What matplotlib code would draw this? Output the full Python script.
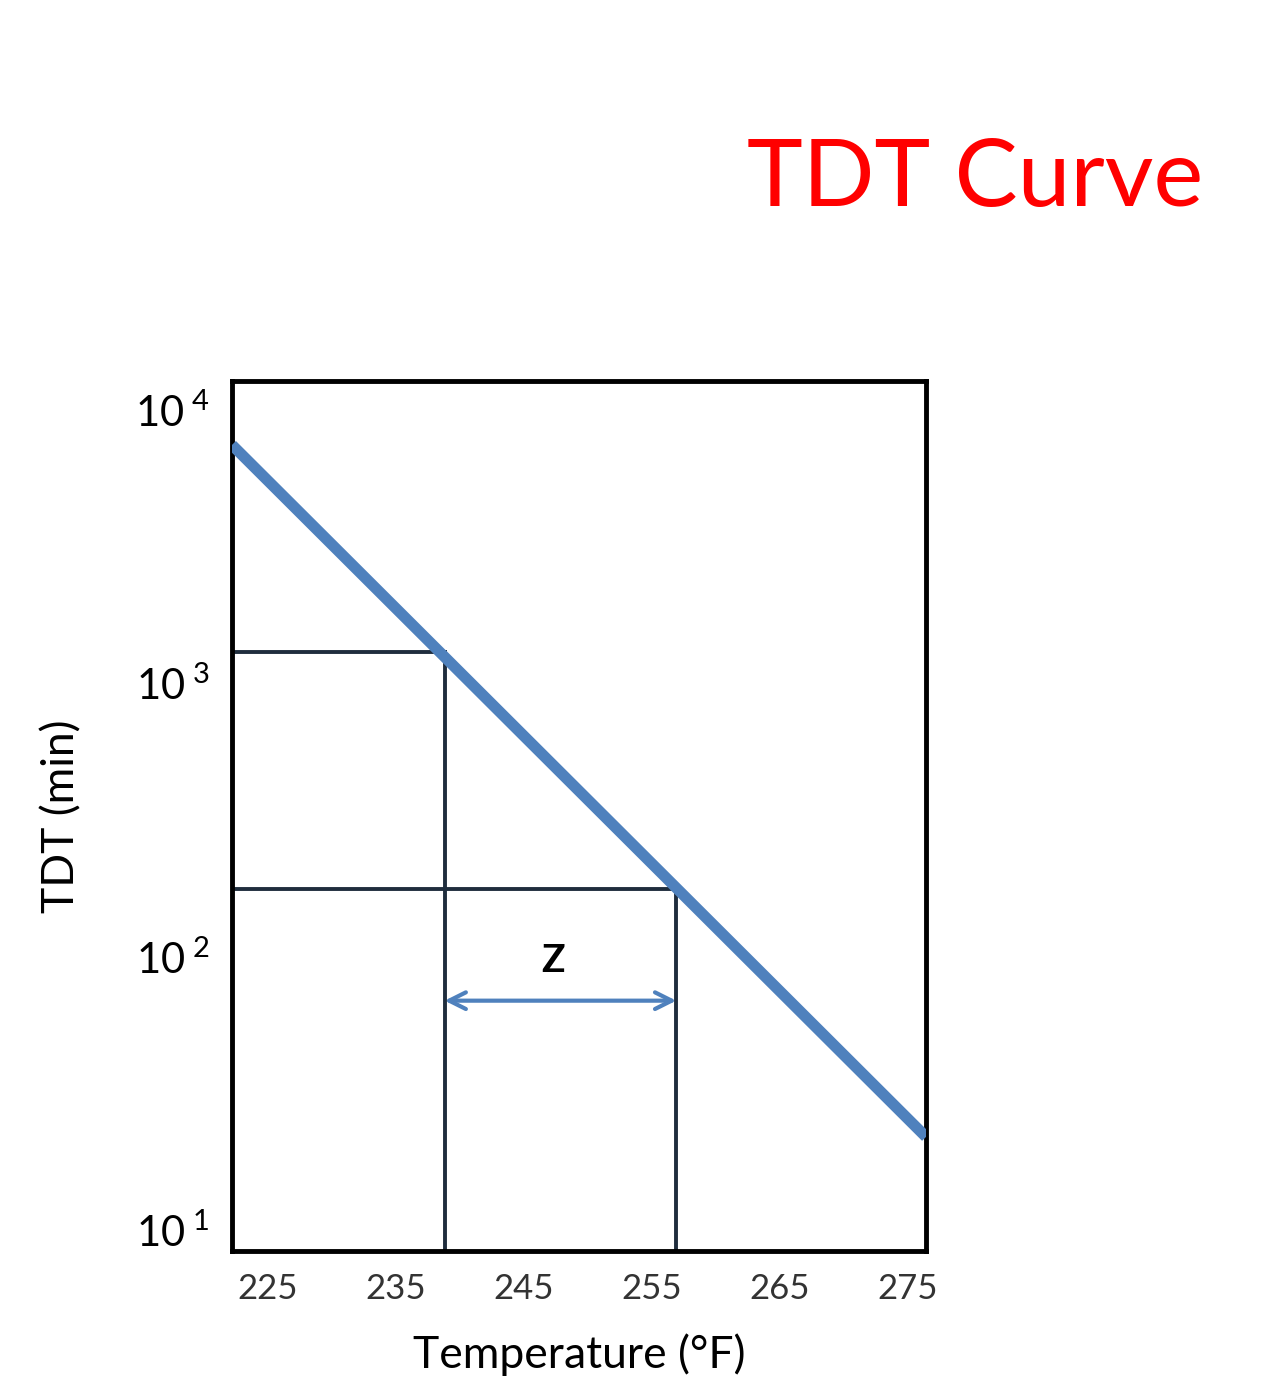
import matplotlib
matplotlib.use("Agg")
import matplotlib.pyplot as plt
plt.rcParams['font.family'] = ['Lato', 'DejaVu Sans']
plt.rcParams['mathtext.fontset'] = 'custom'
plt.rcParams['mathtext.rm'] = 'Lato'
plt.rcParams['mathtext.it'] = 'Lato'

line_temp = [222.2, 276.4]
line_tdt = [7450, 21.9]
pt_temp = [238.8, 256.9]
pt_tdt = [1300, 177]
z_y = 69
yticks = [10, 100, 1000, 10000]
ytick_labels = [r"$10^{\ 1}$", r"$10^{\ 2}$", r"$10^{\ 3}$", r"$10^{\ 4}$"]
xticks = [225, 235, 245, 255, 265, 275]

fig = plt.figure(figsize=(12.84, 13.91), dpi=100)
W, H = 1284, 1391
ax = fig.add_axes([232/W, 1-1251/H, (926-232)/W, (1251-381)/H])
ax.set_yscale("log")
ax.set_xlim(222.2, 276.4)
ax.set_ylim(10**0.923, 10**4.106)
ax.plot(line_temp, line_tdt, color="#4f81bd", lw=8, solid_capstyle="butt", zorder=3)
dark = "#1f2d3d"
for t, v in zip(pt_temp, pt_tdt):
    ax.plot([222.2, t], [v, v], color=dark, lw=2.8)
    ax.plot([t, t], [10**0.923, v], color=dark, lw=2.8)
ax.annotate("", xy=(pt_temp[0], z_y), xytext=(pt_temp[1], z_y),
            arrowprops=dict(arrowstyle="<->", color="#4f81bd", lw=3, mutation_scale=30, shrinkA=0, shrinkB=0))
ax.text(sum(pt_temp)/2 - 0.6, 97, "Z", fontsize=28, fontweight="bold", ha="center", va="center")
ax.set_yticks(yticks)
ax.set_yticklabels(ytick_labels, fontsize=30)
ax.minorticks_off()
ax.set_xticks(xticks)
ax.set_xticklabels([str(x) for x in xticks], fontsize=25, color="#333333")
ax.tick_params(length=0, pad=16)
for s in ax.spines.values():
    s.set_linewidth(3.5)
ax.set_xlabel("Temperature (°F)", fontsize=32, labelpad=20)
ax.set_ylabel("TDT (min)", fontsize=32, labelpad=38)
fig.text(975/W, 1-180/H, "TDT Curve", color="#ff0000", fontsize=68, ha="center", va="center")
fig.savefig("out.png", dpi=100)
